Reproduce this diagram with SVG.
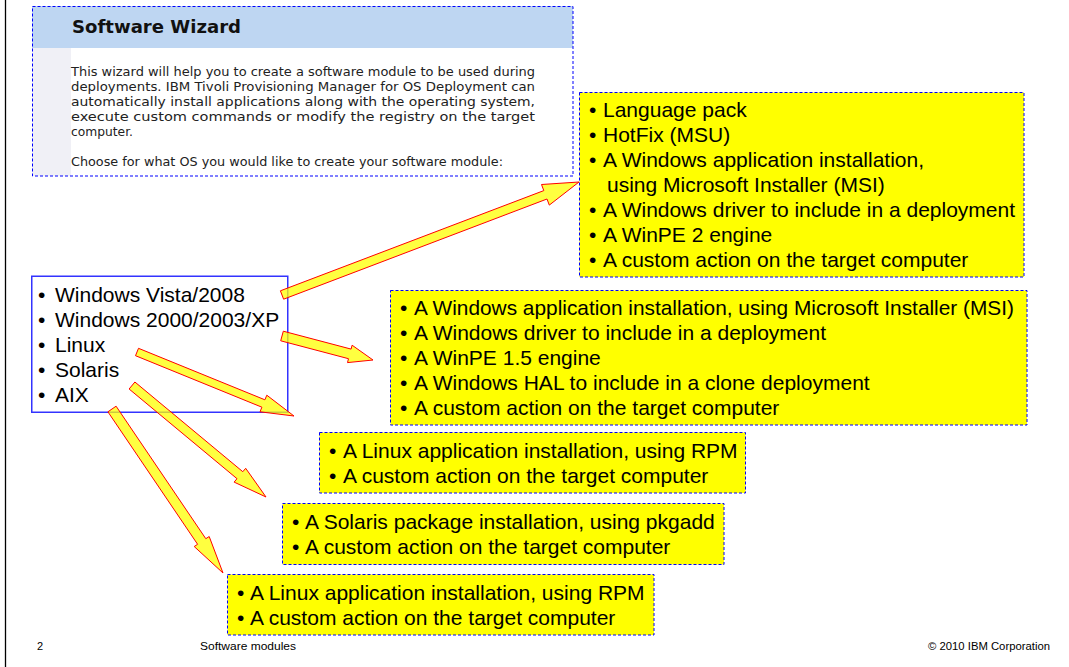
<svg xmlns="http://www.w3.org/2000/svg" width="1069" height="667" viewBox="0 0 1069 667">
<style>
.yb{fill:#ffff00;stroke:#0000ff;stroke-width:1;stroke-dasharray:3,2}
.t{font-family:"Liberation Sans",Arial,sans-serif;font-size:21px;fill:#000}
.w{font-family:"DejaVu Sans",Tahoma,sans-serif;font-size:12px;fill:#222}
.f{font-family:"Liberation Sans",Arial,sans-serif;font-size:11px;fill:#000}
.arr{fill:#ffff00;fill-opacity:0.75;stroke:#ff0000;stroke-width:1;stroke-linejoin:miter}
</style>
<rect width="1069" height="667" fill="#fff"/>
<line x1="5.5" y1="0" x2="5.5" y2="667" stroke="#000" stroke-width="1.3"/>

<g id="wizard">
<rect x="32" y="6" width="541" height="170" fill="#fff"/>
<rect x="32" y="6" width="541" height="42" fill="#bed6f2"/>
<rect x="32" y="48" width="39" height="128" fill="#f0f0f6"/>
<rect x="32.5" y="6.5" width="540.5" height="169.5" fill="none" stroke="#0000ff" stroke-width="1" stroke-dasharray="3,2"/>
<text x="72" y="33" font-family="'DejaVu Sans',Tahoma,sans-serif" font-weight="bold" font-size="17" fill="#111" textLength="169" lengthAdjust="spacingAndGlyphs">Software Wizard</text>
<text class="w" x="71" y="76" textLength="464" lengthAdjust="spacingAndGlyphs">This wizard will help you to create a software module to be used during</text>
<text class="w" x="71" y="91" textLength="464" lengthAdjust="spacingAndGlyphs">deployments. IBM Tivoli Provisioning Manager for OS Deployment can</text>
<text class="w" x="71" y="106" textLength="464" lengthAdjust="spacingAndGlyphs">automatically install applications along with the operating system,</text>
<text class="w" x="71" y="121" textLength="464" lengthAdjust="spacingAndGlyphs">execute custom commands or modify the registry on the target</text>
<text class="w" x="71" y="136" textLength="62" lengthAdjust="spacingAndGlyphs">computer.</text>
<text class="w" x="71" y="166" textLength="432" lengthAdjust="spacingAndGlyphs">Choose for what OS you would like to create your software module:</text>
</g>

<g id="os-list">
<rect x="31.75" y="276.25" width="256" height="136" fill="#fff" stroke="#3333ff" stroke-width="1.5"/>
<text class="t"><tspan x="38" y="302">•</tspan><tspan x="55">Windows Vista/2008</tspan></text>
<text class="t"><tspan x="38" y="327">•</tspan><tspan x="55">Windows 2000/2003/XP</tspan></text>
<text class="t"><tspan x="38" y="352">•</tspan><tspan x="55">Linux</tspan></text>
<text class="t"><tspan x="38" y="377">•</tspan><tspan x="55">Solaris</tspan></text>
<text class="t"><tspan x="38" y="402">•</tspan><tspan x="55">AIX</tspan></text>
</g>

<g id="vista-box">
<rect class="yb" x="579.5" y="92.5" width="444.5" height="184.5"/>
<text class="t"><tspan x="589" y="117">•</tspan><tspan x="603">Language pack</tspan></text>
<text class="t"><tspan x="589" y="142">•</tspan><tspan x="603">HotFix (MSU)</tspan></text>
<text class="t"><tspan x="589" y="167">•</tspan><tspan x="603">A Windows application installation,</tspan></text>
<text class="t" x="607" y="192">using Microsoft Installer (MSI)</text>
<text class="t"><tspan x="589" y="217">•</tspan><tspan x="603">A Windows driver to include in a deployment</tspan></text>
<text class="t"><tspan x="589" y="242">•</tspan><tspan x="603">A WinPE 2 engine</tspan></text>
<text class="t"><tspan x="589" y="267">•</tspan><tspan x="603">A custom action on the target computer</tspan></text>
</g>

<g id="xp-box">
<rect class="yb" x="390.5" y="290.5" width="636.5" height="134.5"/>
<text class="t"><tspan x="400" y="315">•</tspan><tspan x="414" textLength="600" lengthAdjust="spacingAndGlyphs">A Windows application installation, using Microsoft Installer (MSI)</tspan></text>
<text class="t"><tspan x="400" y="340">•</tspan><tspan x="414">A Windows driver to include in a deployment</tspan></text>
<text class="t"><tspan x="400" y="365">•</tspan><tspan x="414">A WinPE 1.5 engine</tspan></text>
<text class="t"><tspan x="400" y="390">•</tspan><tspan x="414">A Windows HAL to include in a clone deployment</tspan></text>
<text class="t"><tspan x="400" y="415">•</tspan><tspan x="414">A custom action on the target computer</tspan></text>
</g>

<g id="linux-box">
<rect class="yb" x="319.5" y="432.5" width="426" height="60.5"/>
<text class="t"><tspan x="329" y="458">•</tspan><tspan x="343">A Linux application installation, using RPM</tspan></text>
<text class="t"><tspan x="329" y="483">•</tspan><tspan x="343">A custom action on the target computer</tspan></text>
</g>

<g id="solaris-box">
<rect class="yb" x="282.5" y="503.5" width="441.5" height="61"/>
<text class="t"><tspan x="292" y="529">•</tspan><tspan x="305">A Solaris package installation, using pkgadd</tspan></text>
<text class="t"><tspan x="292" y="554">•</tspan><tspan x="305">A custom action on the target computer</tspan></text>
</g>

<g id="aix-box">
<rect class="yb" x="227.5" y="574.5" width="426.5" height="60.5"/>
<text class="t"><tspan x="237" y="600">•</tspan><tspan x="250">A Linux application installation, using RPM</tspan></text>
<text class="t"><tspan x="237" y="625">•</tspan><tspan x="250">A custom action on the target computer</tspan></text>
</g>

<g id="connectors">
<polygon class="arr" points="283.6,299.2 280.4,290.8 543.8,190.6 541.5,184.5 579,182 549.3,205.1 547,199"/>
<polygon class="arr" points="280.7,340.8 283.3,331.2 351.1,349.1 352.1,345.2 373,360 347.5,362.6 348.5,358.7"/>
<polygon class="arr" points="135.5,355.7 138.5,348.3 264.9,399.8 266.8,395.2 294,416 260,411.8 261.9,407.2"/>
<polygon class="arr" points="129.1,389 134.9,382 242.8,471.7 245.7,468.3 266,497 234.1,482.1 237,478.7"/>
<polygon class="arr" points="107.9,411.8 116.1,406.2 205.8,538.7 209.2,536.5 223,573 194.2,546.5 197.6,544.3"/>
</g>

<g id="footer">
<text class="f" x="37" y="650">2</text>
<text class="f" x="200" y="650" textLength="96" lengthAdjust="spacingAndGlyphs">Software modules</text>
<text class="f" x="928" y="650" textLength="122" lengthAdjust="spacingAndGlyphs">© 2010 IBM Corporation</text>
</g>
</svg>
